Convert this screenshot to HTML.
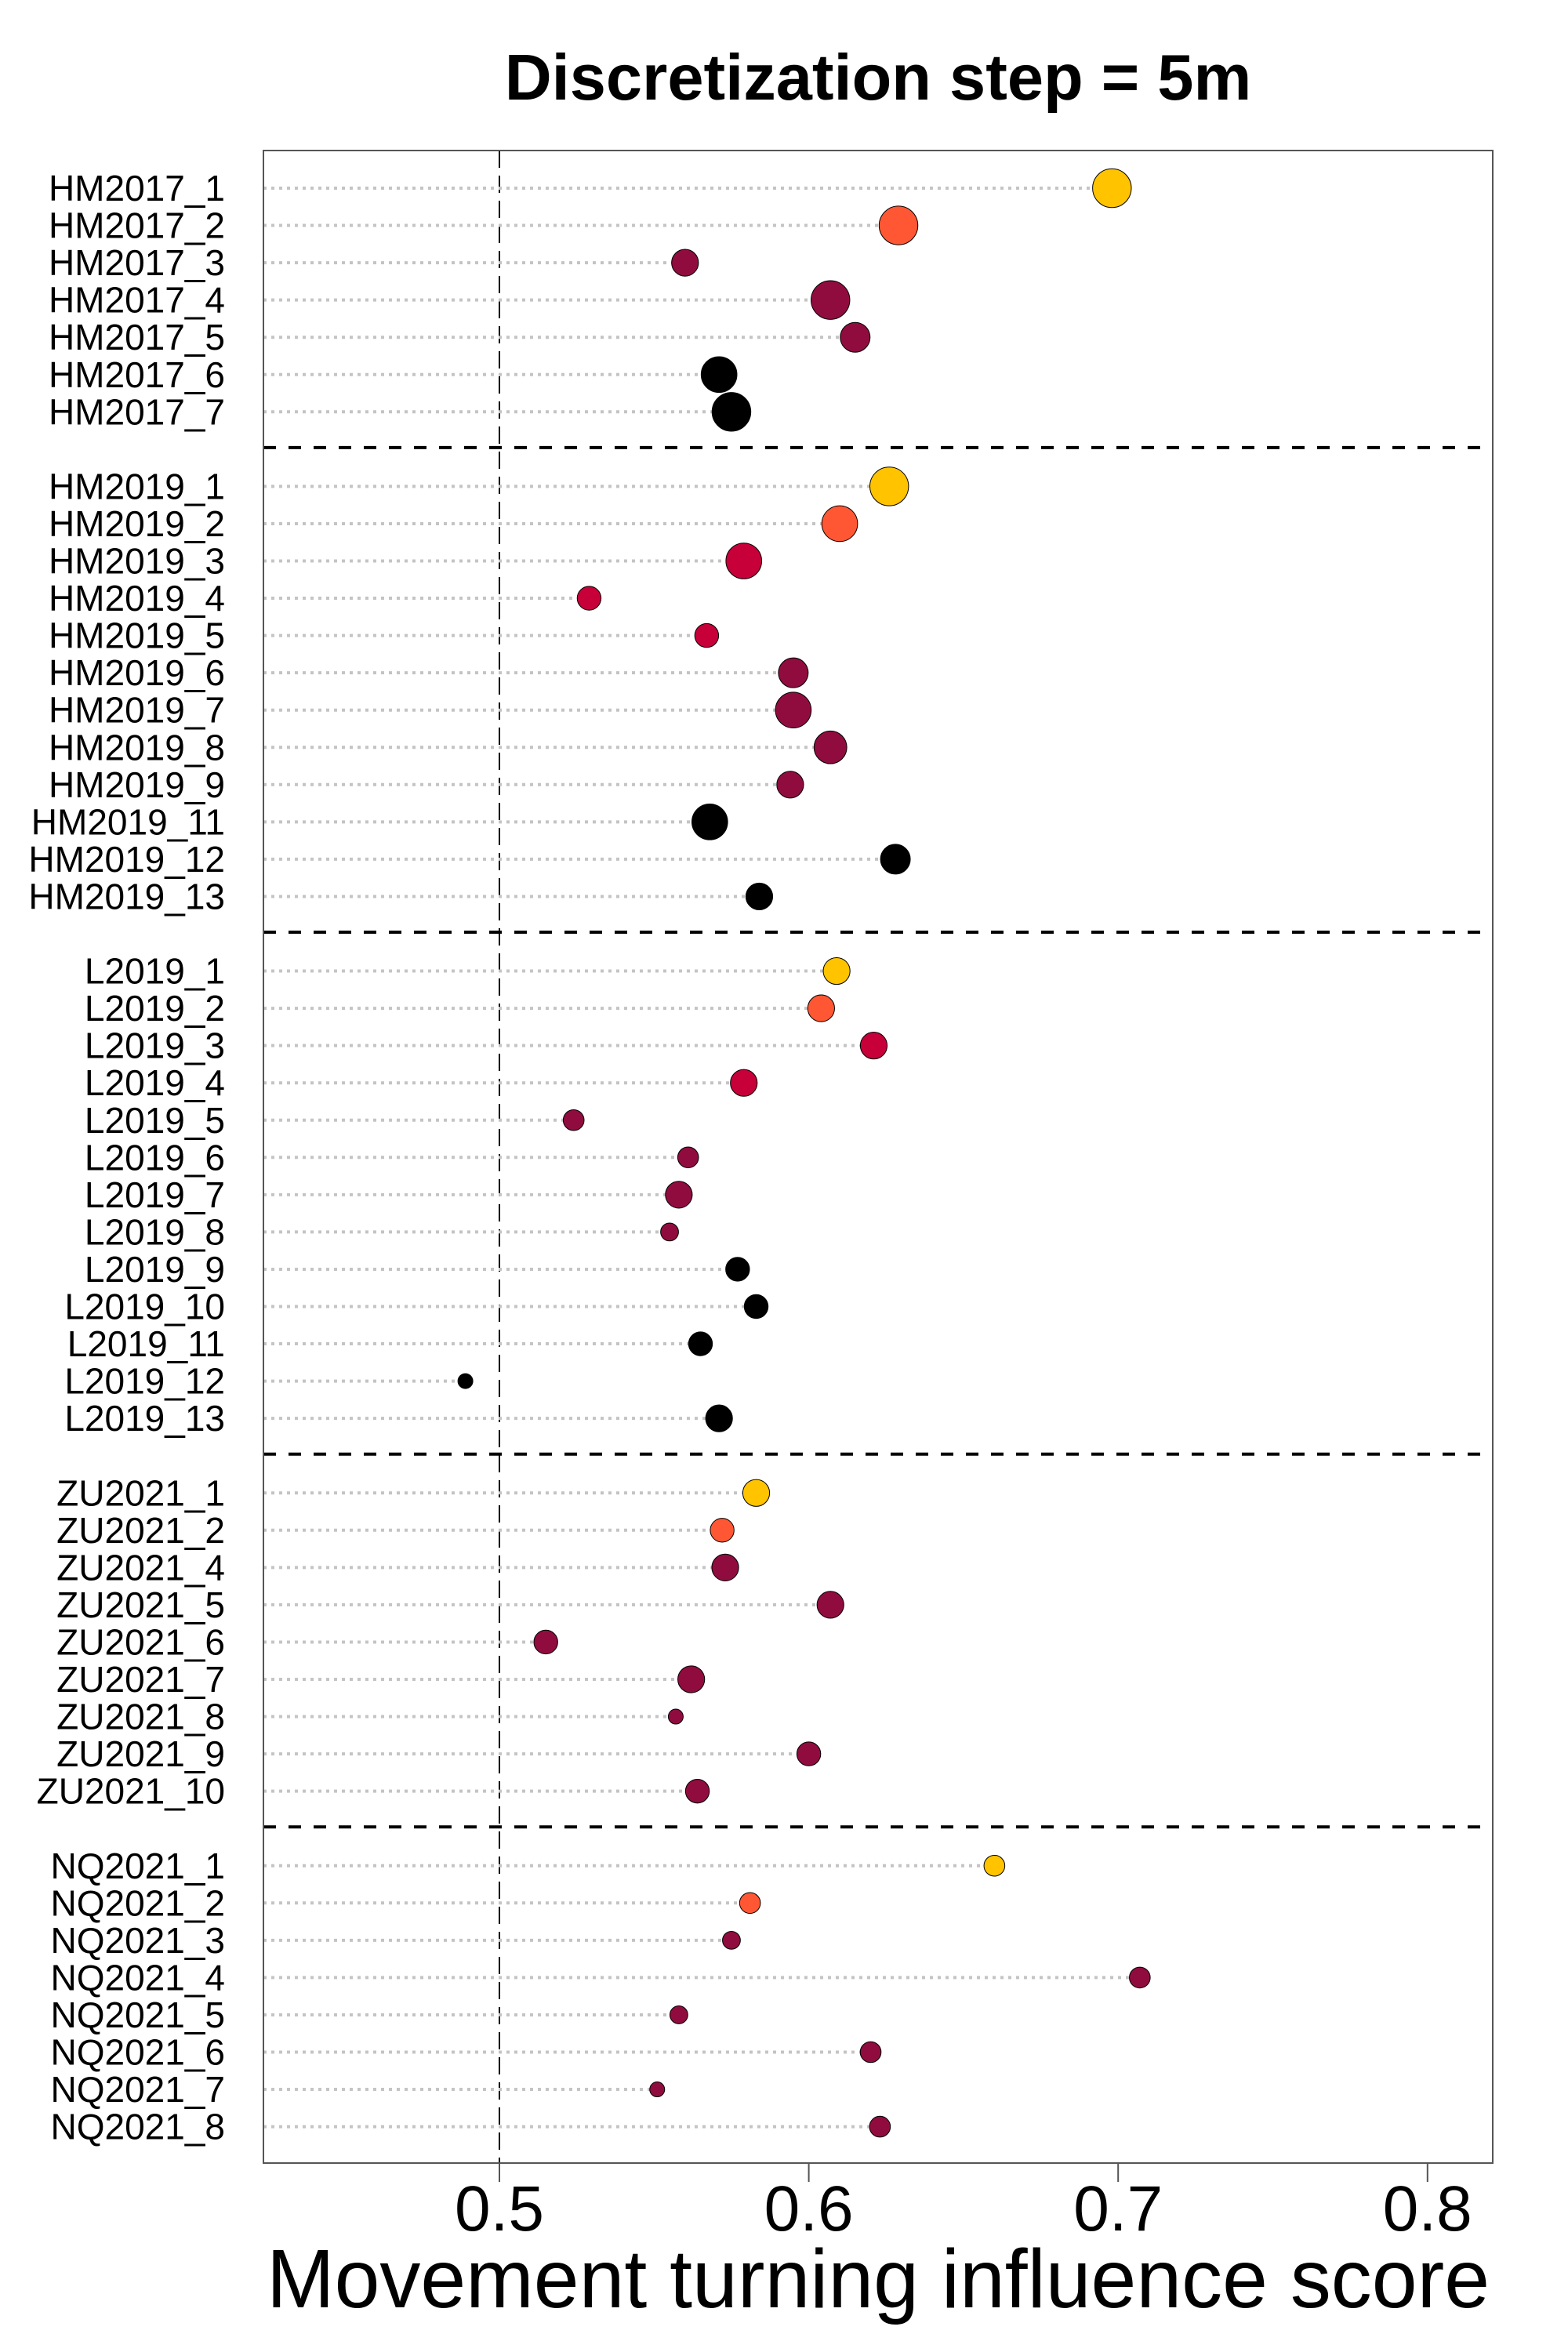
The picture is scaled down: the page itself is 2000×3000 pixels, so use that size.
<!DOCTYPE html>
<html><head><meta charset="utf-8"><style>
html,body{margin:0;padding:0;background:#fff}
svg{display:block}
text{font-family:"Liberation Sans",Arial,sans-serif}
</style></head><body>
<svg id="chart" width="2000" height="3000" xmlns="http://www.w3.org/2000/svg">
<text x="1120" y="127" font-size="83" font-weight="bold" text-anchor="middle">Discretization step = 5m</text>
<g id="plot"></g>
<rect x="336" y="192" width="1568" height="2567" fill="none" stroke="#555" stroke-width="2"/>
<text x="340" y="2943" font-size="106" textLength="1560" lengthAdjust="spacingAndGlyphs">Movement turning influence score</text>
</svg>
<script>
const labels = [
["HM2017_1","HM2017_2","HM2017_3","HM2017_4","HM2017_5","HM2017_6","HM2017_7"],
["HM2019_1","HM2019_2","HM2019_3","HM2019_4","HM2019_5","HM2019_6","HM2019_7","HM2019_8","HM2019_9","HM2019_11","HM2019_12","HM2019_13"],
["L2019_1","L2019_2","L2019_3","L2019_4","L2019_5","L2019_6","L2019_7","L2019_8","L2019_9","L2019_10","L2019_11","L2019_12","L2019_13"],
["ZU2021_1","ZU2021_2","ZU2021_4","ZU2021_5","ZU2021_6","ZU2021_7","ZU2021_8","ZU2021_9","ZU2021_10"],
["NQ2021_1","NQ2021_2","NQ2021_3","NQ2021_4","NQ2021_5","NQ2021_6","NQ2021_7","NQ2021_8"]
];
const scores = [
[0.698,0.629,0.560,0.607,0.615,0.571,0.575],
[0.626,0.610,0.579,0.529,0.567,0.595,0.595,0.607,0.594,0.568,0.628,0.584],
[0.609,0.604,0.621,0.579,0.524,0.561,0.558,0.555,0.577,0.583,0.565,0.489,0.571],
[0.583,0.572,0.573,0.607,0.515,0.562,0.557,0.600,0.564],
[0.660,0.581,0.575,0.707,0.558,0.620,0.551,0.623]
];
const sizes = [
[13,13,9,13,10,12,13],
[13,12,12,8,8,10,12,11,9,12,10,9],
[9,9,9,9,7,7,9,6,8,8,8,5,9],
[9,8,9,9,8,9,5,8,8],
[7,7,6,7,6,7,5,7]
];
const colorCodes = [
["Y","O","M","M","M","K","K"],
["Y","O","R","R","R","M","M","M","M","K","K","K"],
["Y","O","R","R","M","M","M","M","K","K","K","K","K"],
["Y","O","M","M","M","M","M","M","M"],
["Y","O","M","M","M","M","M","M"]
];
const xTicks = [0.5,0.6,0.7,0.8];
const palette = {Y:"#FFC300",O:"#FF5733",R:"#C70039",M:"#900C3F",K:"#000000"};
const NS="http://www.w3.org/2000/svg";
const g=document.getElementById('plot');
const L=336,R=1904,T=192,B=2759;
function xs(v){return 637+(v-0.5)*3946;}
function ys(slot){return 240+slot*47.55;}
function mk(t,a,p){const e=document.createElementNS(NS,t);for(const k in a)e.setAttribute(k,a[k]);(p||g).appendChild(e);return e;}
const ref=mk('line',{x1:xs(0.5),x2:xs(0.5),y1:T,y2:B,stroke:'#000','stroke-width':2,'stroke-dasharray':'22,10'});


let slot=0;
labels.forEach((grp,gi)=>{
  grp.forEach((lab,i)=>{
    const y=ys(slot), v=scores[gi][i], x=xs(v);
    const ln=mk('line',{x1:L,x2:x,y1:y,y2:y,stroke:'#c4c4c4','stroke-width':4,'stroke-dasharray':'4,6'});
    
    
    const t=mk('text',{x:287,y:y+16,'font-size':46,'text-anchor':'end'});
    t.textContent=lab;
    
    
    const c=mk('circle',{cx:x,cy:y,r:sizes[gi][i]*1.9,fill:palette[colorCodes[gi][i]],stroke:'#000','stroke-width':1});
    
    
    slot++;
  });
  if(gi<labels.length-1){
    const sy=ys(slot)-2;
    const s=mk('line',{x1:L,x2:1895,y1:sy,y2:sy,stroke:'#000','stroke-width':4,'stroke-dasharray':'16,16'});
    
    
    slot++;
  }
});
xTicks.forEach(v=>{
  const x=xs(v);
  const tk=mk('line',{x1:x,x2:x,y1:B,y2:B+24,stroke:'#555','stroke-width':2});
  
  
  const t=mk('text',{x:x,y:2845,'font-size':82,'text-anchor':'middle'});
  t.textContent=String(v);
  
  
});
</script>
</body></html>
